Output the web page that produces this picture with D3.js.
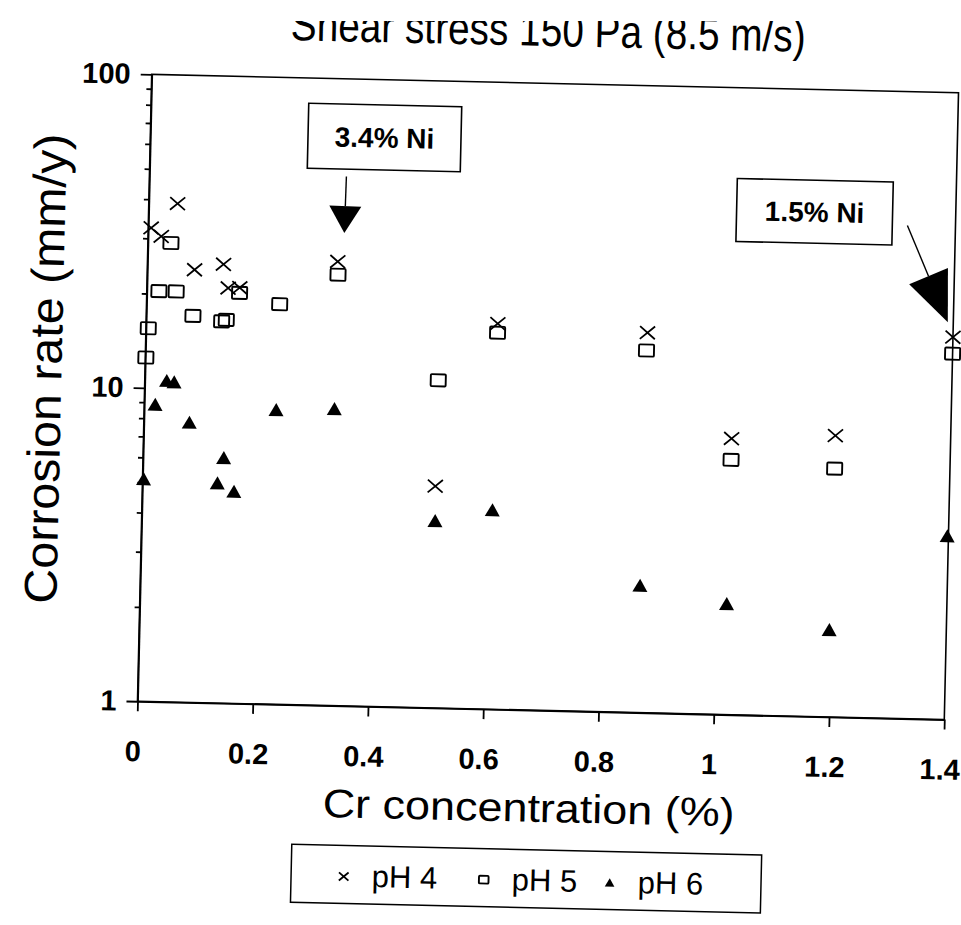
<!DOCTYPE html>
<html>
<head>
<meta charset="utf-8">
<script src="https://cdn.jsdelivr.net/npm/d3@7"></script>
<style>
  body { margin: 0; background: #fff; }
  text { font-family: "Liberation Sans", Arial, Helvetica, sans-serif; fill: #000; }
</style>
</head>
<body>
<svg id="chart" width="961" height="925"></svg>
<script>

// Cr concentration (%) and corrosion rate (mm/y)
var ph4_cr   = [0.005, 0.023, 0.05, 0.082, 0.132, 0.141, 0.161, 0.33, 0.508, 0.61, 0.87, 1.02, 1.2, 1.4];
var ph4_rate = [32.4, 30.5, 38.9, 24.0, 25.1, 21.1, 21.2, 26.1, 5.1, 17.0, 16.3, 7.6, 7.9, 16.6];

var ph5_cr   = [0.004, 0.001, 0.021, 0.04, 0.051, 0.081, 0.131, 0.139, 0.161, 0.231, 0.331, 0.509, 0.61, 0.869, 1.02, 1.2, 1.4];
var ph5_rate = [15.5, 12.5, 20.4, 29.1, 20.4, 17.1, 16.5, 16.7, 20.4, 18.9, 23.7, 11.1, 15.9, 14.3, 6.5, 6.2, 14.7];

var ph6_cr   = [0.002, 0.019, 0.038, 0.051, 0.079, 0.13, 0.14, 0.159, 0.229, 0.33, 0.509, 0.608, 0.867, 1.018, 1.197, 1.398];
var ph6_rate = [5.13, 8.88, 10.6, 10.5, 7.83, 5.04, 6.07, 4.75, 8.71, 8.86, 3.96, 4.33, 2.55, 2.26, 1.90, 3.86];

var series_names = ['pH 4', 'pH 5', 'pH 6'];
var x_ticks = [0, 0.2, 0.4, 0.6, 0.8, 1, 1.2, 1.4];
var y_ticks = [1, 10, 100];
var y_minor = [2, 3, 4, 5, 6, 7, 8, 9, 20, 30, 40, 50, 60, 70, 80, 90];

var title = 'Shear stress 150 Pa (8.5 m/s)';
var x_title = 'Cr  concentration (%)';
var y_title = 'Corrosion rate (mm/y)';

// callouts: label and the point (cr, rate) the arrow tip lands on
var notes = [
  {label: '3.4% Ni', cr: 0.3403, rate: 32.2},
  {label: '1.5% Ni', cr: 1.3905, rate: 18.5}
];

var margin = {top: 83.5, left: 144.5};
var width = 807, height = 627;

var svg = d3.select('#chart');

// the top of the scanned title is cut away
svg.append('clipPath').attr('id', 'title-clip')
   .append('rect').attr('x', 0).attr('y', 21).attr('width', 961).attr('height', 60);

// the scan is tilted a little, so the whole page is turned with it
var page = svg.append('g').attr('transform', 'rotate(1.3,548,397)');
var plot = page.append('g').attr('transform', 'translate(' + margin.left + ',' + margin.top + ')');

var x = d3.scaleLinear().domain([0, 1.4]).range([0, width]);
var y = d3.scaleLog().domain([1, 100]).range([height, 0]);

// frame
plot.append('rect')
    .attr('width', width).attr('height', height)
    .attr('fill', 'none').attr('stroke', '#000').attr('stroke-width', 1.6);

// y axis
var y_axis = plot.append('g')
    .call(d3.axisLeft(y).tickValues(y_ticks).tickSize(11).tickSizeOuter(0).tickPadding(10).tickFormat(d3.format('d')));
plot.append('g')
    .call(d3.axisLeft(y).tickValues(y_minor).tickSize(5).tickSizeOuter(0).tickFormat(''))
    .select('.domain').remove();

// x axis
var x_axis = plot.append('g')
    .attr('transform', 'translate(0,' + height + ')')
    .call(d3.axisBottom(x).tickValues(x_ticks).tickSize(10).tickSizeOuter(0).tickFormat(d3.format('~g')));

x_axis.selectAll('.tick text').attr('y', 60).attr('dy', 0).attr('dx', -4);

plot.selectAll('.domain, .tick line').attr('stroke', '#000').attr('stroke-width', 1.8);
plot.selectAll('.tick text')
    .attr('font-size', 29).attr('font-weight', 'bold')
    .style('font-family', '"Liberation Sans", Arial, sans-serif');

// markers
function cross(g, s) {
  g.append('path').attr('d', 'M' + (-s) + ',' + (-s * 0.85) + 'L' + s + ',' + (s * 0.85) + 'M' + (-s) + ',' + (s * 0.85) + 'L' + s + ',' + (-s * 0.85))
      .attr('stroke', '#000').attr('stroke-width', 1.8).attr('fill', 'none');
}
function box(g, s) {
  g.append('rect').attr('x', -s).attr('y', -s * 0.8).attr('width', 2 * s).attr('height', 1.6 * s).attr('rx', 1)
      .attr('stroke', '#000').attr('stroke-width', 1.9).attr('fill', 'none');
}
function tri(g, s) {
  g.append('path').attr('d', 'M0,' + (-s * 0.87) + 'L' + s + ',' + (s * 0.87) + 'L' + (-s) + ',' + (s * 0.87) + 'Z')
      .attr('fill', '#000');
}

var series = [
  {cr: ph4_cr, rate: ph4_rate, draw: cross},
  {cr: ph5_cr, rate: ph5_rate, draw: box},
  {cr: ph6_cr, rate: ph6_rate, draw: tri}
];

series.forEach(s => {
  s.cr.forEach((c, i) => {
    var g = plot.append('g').attr('transform', 'translate(' + x(c) + ',' + y(s.rate[i]) + ')');
    s.draw(g, 7.5);
  });
});

// callouts
function callout(note, box_dx, box_dy, box_w, box_h, line_dx, line_dy, head_len, head_w) {
  var tx = x(note.cr), ty = y(note.rate);
  var sx = tx + line_dx, sy = ty + line_dy;
  var len = Math.hypot(tx - sx, ty - sy);
  var ux = (tx - sx) / len, uy = (ty - sy) / len;
  var bx = tx - ux * head_len, by = ty - uy * head_len;

  plot.append('rect')
      .attr('x', tx + box_dx).attr('y', ty + box_dy)
      .attr('width', box_w).attr('height', box_h)
      .attr('fill', '#fff').attr('stroke', '#000').attr('stroke-width', 1.6);
  plot.append('text')
      .attr('x', tx + box_dx + box_w / 2).attr('y', ty + box_dy + box_h / 2)
      .attr('dy', '0.36em').attr('text-anchor', 'middle')
      .attr('font-size', 28).attr('font-weight', 'bold')
      .text(note.label);
  plot.append('line')
      .attr('x1', sx).attr('y1', sy).attr('x2', bx).attr('y2', by)
      .attr('stroke', '#000').attr('stroke-width', 1.4);
  plot.append('path')
      .attr('d', 'M' + tx + ',' + ty +
                 'L' + (bx - uy * head_w) + ',' + (by + ux * head_w) +
                 'L' + (bx + uy * head_w) + ',' + (by - ux * head_w) + 'Z')
      .attr('fill', '#000');
}

callout(notes[0], -38.5, -129, 153, 65, 0.8, -56.6, 27, 16);
callout(notes[1], -213.7, -139, 156, 63, -42.6, -95.8, 50, 21);

// titles
svg.append('g').attr('clip-path', 'url(#title-clip)')
  .append('text')
    .attr('transform', 'rotate(1.3,548,397)')
    .attr('x', margin.left + width / 2 - 8).attr('y', 46)
    .attr('text-anchor', 'middle').attr('font-size', 46)
    .attr('textLength', 515).attr('lengthAdjust', 'spacingAndGlyphs')
    .text(title);

page.append('text')
    .attr('x', margin.left + width / 2 - 10).attr('y', 822)
    .attr('text-anchor', 'middle').attr('font-size', 40)
    .attr('textLength', 412).attr('lengthAdjust', 'spacingAndGlyphs')
    .text(x_title);

page.append('text')
    .attr('transform', 'translate(61,380) rotate(-90)')
    .attr('text-anchor', 'middle').attr('font-size', 46)
    .attr('textLength', 470).attr('lengthAdjust', 'spacingAndGlyphs')
    .text(y_title);

// legend
var legend = page.append('g').attr('transform', 'translate(302,850)');
var legend_w = 470;
legend.append('rect')
    .attr('width', legend_w).attr('height', 58)
    .attr('fill', 'none').attr('stroke', '#000').attr('stroke-width', 1.5);

var legend_marks = [cross, box, tri];
var legend_pos = [0.112, 0.41, 0.678];
series_names.forEach((name, i) => {
  var g = legend.append('g').attr('transform', 'translate(' + (legend_pos[i] * legend_w) + ',31)');
  legend_marks[i](g, 4.8);
  legend.append('text')
      .attr('x', legend_pos[i] * legend_w + 28).attr('y', 41)
      .attr('font-size', 31)
      .text(name);
});

</script>
</body>
</html>
